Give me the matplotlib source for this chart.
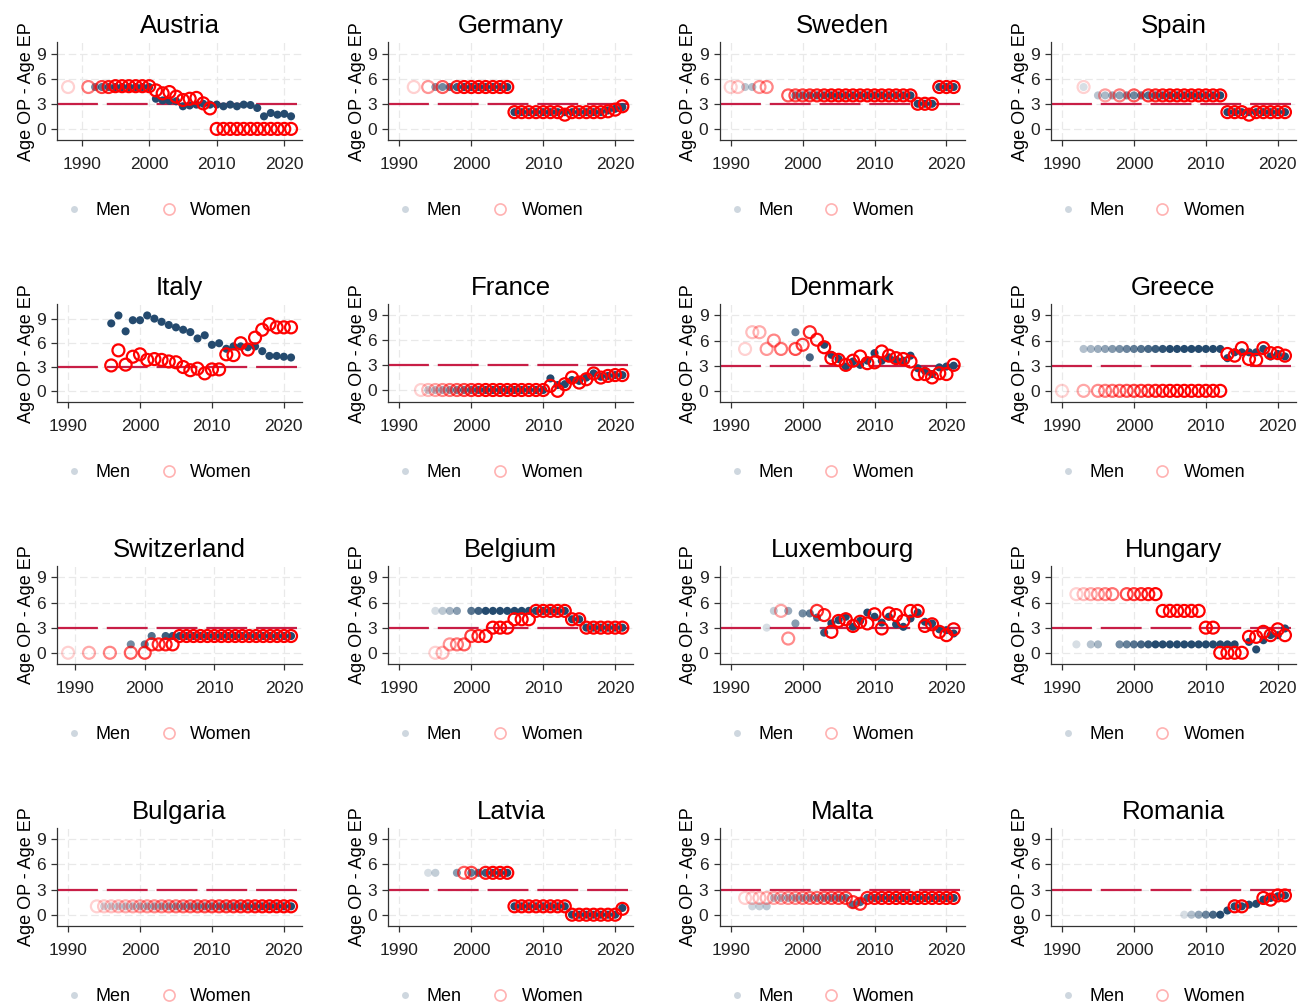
import numpy as np
import matplotlib
matplotlib.use("Agg")
import matplotlib.pyplot as plt
from matplotlib.colors import to_rgba
from matplotlib.lines import Line2D

plt.rcParams['font.family'] = ['Liberation Sans', 'DejaVu Sans']

# ---------------- data: Age OP - Age EP by year ----------------
austria_men_yr = list(range(1992, 2022))
austria_men = [5, 5, 5, 5, 5, 5, 5, 5, 5, 3.6, 3.4, 3.35, 3.3, 2.7, 2.8, 2.9, 3.0, 2.9, 2.9, 2.7,
               2.9, 2.7, 2.9, 2.85, 2.5, 1.5, 1.9, 1.7, 1.8, 1.5]
austria_wom_yr = [1988, 1991] + list(range(1993, 2022))
austria_wom = [5, 5, 5, 5, 5.1, 5.1, 5.1, 5.1, 5.1, 5.1, 4.6, 4.25, 4.4, 3.85, 3.45, 3.6, 3.7, 3.05, 2.45,
               0, 0, 0, 0, 0, 0, 0, 0, 0, 0, 0, 0]

germany_men_yr = list(range(1995, 2022))
germany_men = [5, 5, 5, 5, 5, 5, 5, 5, 5, 5, 5, 2, 2, 2, 2, 2, 2, 2, 2, 2, 2, 2, 2, 2, 2.2, 2.4, 2.6]
germany_wom_yr = [1992, 1994, 1996] + list(range(1998, 2022))
germany_wom = [5, 5, 5, 5, 5, 5, 5, 5, 5, 5, 5, 2, 2, 2, 2, 2, 2, 2, 1.7, 2, 2, 2, 2, 2, 2.1, 2.3, 2.7]

sweden_men_yr = [1992, 1993] + list(range(1999, 2022))
sweden_men = [5, 5, 4, 4, 4, 4, 4, 4, 4, 4, 4, 4, 4, 4, 4, 4, 4, 4, 4, 3, 3, 3, 5, 5, 5]
sweden_wom_yr = [1990, 1991, 1994, 1995] + list(range(1998, 2022))
sweden_wom = [5, 5, 5, 5, 4, 4, 4, 4, 4, 4, 4, 4, 4, 4, 4, 4, 4, 4, 4, 4, 4, 4, 3, 3, 3, 5, 5, 5]

spain_men_yr = [1993] + list(range(1995, 2022))
spain_men = [5, 4, 4, 4, 4, 4, 4, 4, 4, 4, 4, 4, 4, 4, 4, 4, 4, 4, 4, 2, 2, 2, 2, 2, 2, 2, 2, 2]
spain_wom_yr = [1993, 1996, 1998, 2000] + list(range(2002, 2022))
spain_wom = [5, 4, 4, 4, 4, 4, 4, 4, 4, 4, 4, 4, 4, 4, 4, 2, 2, 2, 1.7, 2, 2, 2, 2, 2]

italy_men_yr = list(range(1996, 2022))
italy_men = [8.5, 9.5, 7.5, 8.9, 8.9, 9.5, 9.1, 8.7, 8.3, 8.0, 7.7, 7.4, 6.6, 7.0, 5.8, 6.0, 5.3,
             5.6, 5.6, 5.5, 5.6, 5.0, 4.4, 4.4, 4.3, 4.2]
italy_wom_yr = list(range(1996, 2022))
italy_wom = [3.2, 5.1, 3.3, 4.3, 4.6, 3.9, 4.0, 3.9, 3.7, 3.6, 3.0, 2.6, 2.8, 2.2, 2.7, 2.7, 4.6,
             4.5, 6.0, 5.2, 6.7, 7.7, 8.4, 8.0, 8.0, 8.0]

france_men_yr = list(range(1994, 2022))
france_men = [0, 0, 0, 0, 0, 0, 0, 0, 0, 0, 0, 0, 0, 0, 0, 0, 0, 1.4, 0.6, 0.7, 1.2, 1.1, 1.5, 2.0,
              1.6, 1.7, 1.8, 1.8]
france_wom_yr = list(range(1993, 2022))
france_wom = [0, 0, 0, 0, 0, 0, 0, 0, 0, 0, 0, 0, 0, 0, 0, 0, 0, 0, 0.5, -0.1, 0.7, 1.5, 0.9, 1.3,
              2.0, 1.5, 1.7, 1.8, 1.8]

denmark_men_yr = [1999, 2001] + list(range(2003, 2022))
denmark_men = [7, 4, 5.5, 4.3, 3.8, 2.9, 3.5, 3.1, 3.6, 4.5, 3.6, 4.0, 3.7, 3.6, 4.2, 2.7, 2.4, 2.0,
               2.8, 2.9, 3.0]
denmark_wom_yr = list(range(1992, 1998)) + list(range(1999, 2022))
denmark_wom = [5, 7, 7, 5, 6, 5, 5, 5.5, 7, 6.1, 5.2, 3.9, 3.7, 3.1, 3.6, 4.1, 3.3, 3.4, 4.7, 4.2,
               3.9, 3.8, 3.5, 2.0, 2.0, 1.6, 2.1, 2.0, 3.1]

greece_men_yr = list(range(1993, 2022))
greece_men = [5, 5, 5, 5, 5, 5, 5, 5, 5, 5, 5, 5, 5, 5, 5, 5, 5, 5, 5, 5, 3.9, 4.6, 4.6, 4.6, 4.6,
              5.0, 4.1, 4.4, 4.1]
greece_wom_yr = [1990, 1993] + list(range(1995, 2022))
greece_wom = [0, 0, 0, 0, 0, 0, 0, 0, 0, 0, 0, 0, 0, 0, 0, 0, 0, 0, 0, 0, 4.4, 4.2, 5.1, 3.8, 3.7,
              5.1, 4.5, 4.5, 4.2]

switzerland_men_yr = [1998, 2000, 2001] + list(range(2003, 2022))
switzerland_men = [1, 1, 2, 2, 2, 2, 2, 2, 2, 2, 2, 2, 2, 2, 2, 2, 2, 2, 2, 2, 2, 2]
switzerland_wom_yr = [1989, 1992, 1995, 1998] + list(range(2000, 2022))
switzerland_wom = [0, 0, 0, 0, 0, 1, 1, 1, 1, 2, 2, 2, 2, 2, 2, 2, 2, 2, 2, 2, 2, 2, 2, 2, 2, 2]

belgium_men_yr = [1995, 1996, 1997, 1998] + list(range(2000, 2022))
belgium_men = [5, 5, 5, 5, 5, 5, 5, 5, 5, 5, 5, 5, 5, 5, 5, 5, 5, 5, 4, 4, 3, 3, 3, 3, 3, 3]
belgium_wom_yr = list(range(1995, 2022))
belgium_wom = [0, 0, 1, 1, 1, 2, 2, 2, 3, 3, 3, 4, 4, 4, 5, 5, 5, 5, 5, 4, 4, 3, 3, 3, 3, 3, 3]

luxembourg_men_yr = [1995, 1996] + list(range(1998, 2022))
luxembourg_men = [3, 5, 5, 3.5, 4.7, 4.7, 4.2, 2.4, 3.5, 3.9, 4.3, 3.1, 3.8, 4.8, 4.3, 3.6, 4.3,
                  3.4, 3.1, 4.1, 4.8, 3.7, 3.5, 2.8, 2.7, 2.3]
luxembourg_wom_yr = [1997, 1998] + list(range(2002, 2022))
luxembourg_wom = [5.0, 1.7, 5.0, 4.5, 2.5, 3.8, 4.0, 3.2, 3.7, 3.5, 4.6, 2.9, 4.7, 4.5, 3.8, 5.0,
                  5.0, 3.2, 3.4, 2.5, 2.1, 2.8]

hungary_men_yr = [1992, 1994, 1995] + list(range(1998, 2015)) + list(range(2016, 2022))
hungary_men = [1, 1, 1, 1, 1, 1, 1, 1, 1, 1, 1, 1, 1, 1, 1, 1, 1, 1, 1, 1, 1.3, 0.4, 1.5, 2.1, 2.1, 2.9]
hungary_wom_yr = list(range(1992, 1998)) + list(range(1999, 2022))
hungary_wom = [7, 7, 7, 7, 7, 7, 7, 7, 7, 7, 7, 5, 5, 5, 5, 5, 5, 3, 3, 0, 0, 0, 0, 1.9, 1.9, 2.5,
               2.1, 2.8, 2.1]

bulgaria_men_yr = list(range(1995, 2022))
bulgaria_men = [1, 1, 1, 1, 1, 1, 1, 1, 1, 1, 1, 1, 1, 1, 1, 1, 1, 1, 1, 1, 1, 1, 1, 1, 1, 1, 1]
bulgaria_wom_yr = list(range(1994, 2022))
bulgaria_wom = [1, 1, 1, 1, 1, 1, 1, 1, 1, 1, 1, 1, 1, 1, 1, 1, 1, 1, 1, 1, 1, 1, 1, 1, 1, 1, 1, 1]

latvia_men_yr = [1994, 1995, 1998] + list(range(2000, 2022))
latvia_men = [5, 5, 5, 5, 5, 5, 5, 5, 5, 1, 1, 1, 1, 1, 1, 1, 1, 0, 0, 0, 0, 0, 0, 0, 0.8]
latvia_wom_yr = [1999, 2000] + list(range(2002, 2022))
latvia_wom = [5, 5, 5, 5, 5, 5, 1, 1, 1, 1, 1, 1, 1, 1, 0, 0, 0, 0, 0, 0, 0, 0.7]

malta_men_yr = list(range(1993, 2022))
malta_men = [1, 1, 1, 2, 2, 2, 2, 2, 2, 2, 2, 2, 2, 2, 1.2, 1.5, 2, 2, 2, 2, 2, 2, 2, 2, 2, 2, 2, 2, 2]
malta_wom_yr = list(range(1992, 2022))
malta_wom = [2, 2, 2, 2, 2, 2, 2, 2, 2, 2, 2, 2, 2, 2, 2, 1.5, 1.3, 2, 2, 2, 2, 2, 2, 2, 2, 2, 2, 2,
             2, 2]

romania_men_yr = list(range(2007, 2022))
romania_men = [0, 0, 0, 0, 0, 0, 0.5, 1.0, 1.0, 1.2, 1.3, 1.8, 2.0, 2.2, 2.3]
romania_wom_yr = [2014, 2015, 2018, 2019, 2020, 2021]
romania_wom = [1.0, 1.0, 2.0, 1.8, 2.3, 2.3]

panels = [
    ("Austria", austria_men_yr, austria_men, austria_wom_yr, austria_wom, 1995),
    ("Germany", germany_men_yr, germany_men, germany_wom_yr, germany_wom, 1999),
    ("Sweden", sweden_men_yr, sweden_men, sweden_wom_yr, sweden_wom, 2004),
    ("Spain", spain_men_yr, spain_men, spain_wom_yr, spain_wom, 2005),
    ("Italy", italy_men_yr, italy_men, italy_wom_yr, italy_wom, 1996),
    ("France", france_men_yr, france_men, france_wom_yr, france_wom, 2002),
    ("Denmark", denmark_men_yr, denmark_men, denmark_wom_yr, denmark_wom, 2003),
    ("Greece", greece_men_yr, greece_men, greece_wom_yr, greece_wom, 2005),
    ("Switzerland", switzerland_men_yr, switzerland_men, switzerland_wom_yr, switzerland_wom, 2005),
    ("Belgium", belgium_men_yr, belgium_men, belgium_wom_yr, belgium_wom, 2002),
    ("Luxembourg", luxembourg_men_yr, luxembourg_men, luxembourg_wom_yr, luxembourg_wom, 2004),
    ("Hungary", hungary_men_yr, hungary_men, hungary_wom_yr, hungary_wom, 2003),
    ("Bulgaria", bulgaria_men_yr, bulgaria_men, bulgaria_wom_yr, bulgaria_wom, 2018),
    ("Latvia", latvia_men_yr, latvia_men, latvia_wom_yr, latvia_wom, 2003),
    ("Malta", malta_men_yr, malta_men, malta_wom_yr, malta_wom, 2012),
    ("Romania", romania_men_yr, romania_men, romania_wom_yr, romania_wom, 2012),
]

men_c = "#244a6e"
wom_c = "#ff0000"
ref_c = "#c81e46"


def ramp(years, start, full):
    # early observations are drawn faint, fading in until `full`
    years = np.asarray(years, dtype=float)
    if full <= start:
        return np.ones_like(years)
    return 0.18 + 0.82 * np.clip((years - start) / (full - start), 0, 1)


def colors(base, alphas):
    r, g, b, _ = to_rgba(base)
    return [(r, g, b, a) for a in alphas]


fig, axs = plt.subplots(4, 4, figsize=(13, 10.05), dpi=100)
fig.subplots_adjust(left=0.0438, right=0.997, top=0.958, bottom=0.0786,
                    wspace=0.351, hspace=1.673)

for ax, (name, myr, mval, wyr, wval, full) in zip(axs.flat, panels):
    start = min(min(myr), min(wyr))
    ax.axhline(3, color=ref_c, lw=1.6, dashes=(18.4, 4), zorder=2)
    ax.scatter(myr, mval, s=34, c=colors(men_c, ramp(myr, start, full)),
               edgecolors='none', zorder=3)
    ax.scatter(wyr, wval, s=74, facecolors='none',
               edgecolors=colors(wom_c, ramp(wyr, start, full)), linewidths=1.6, zorder=4)

    lo = min(1990, start)
    hi = max(max(myr), max(wyr))
    pad = 0.05 * (hi - lo)
    ax.set_xlim(lo - pad, hi + pad)
    ylo = min(0, min(mval), min(wval))
    yhi = max(9, max(mval), max(wval))
    ypad = 0.15 * (yhi - ylo)
    ax.set_ylim(ylo - ypad, yhi + ypad)

    ax.set_xticks([1990, 2000, 2010, 2020])
    ax.set_yticks([0, 3, 6, 9])
    ax.tick_params(labelsize=12.5, length=4, width=0.9, color="#333333", labelcolor="#222222")
    ax.tick_params(axis='x', pad=8)
    ax.tick_params(axis='y', pad=4)
    ax.grid(True, color="#e9e9e9", lw=0.9, ls=(0, (6, 3)))
    ax.set_axisbelow(True)
    for s in ("top", "right"):
        ax.spines[s].set_visible(False)
    for s in ("left", "bottom"):
        ax.spines[s].set_color("#333333")
        ax.spines[s].set_linewidth(0.9)

    ax.set_title(name, fontsize=18.5, pad=6.5)
    ax.set_ylabel("Age OP - Age EP", fontsize=13, labelpad=1)

    handles = [
        Line2D([], [], ls='', marker='o', markersize=5, markerfacecolor=to_rgba(men_c, 0.22),
               markeredgecolor='none'),
        Line2D([], [], ls='', marker='o', markersize=8, markerfacecolor='none',
               markeredgecolor=to_rgba(wom_c, 0.3), markeredgewidth=1.2),
    ]
    ax.legend(handles, ["Men", "Women"], loc='center', bbox_to_anchor=(0.41, -0.72), ncol=2,
              frameon=False, fontsize=13, handletextpad=0.6, columnspacing=1.5, handlelength=1.2)

fig.savefig("out.png", dpi=100)
